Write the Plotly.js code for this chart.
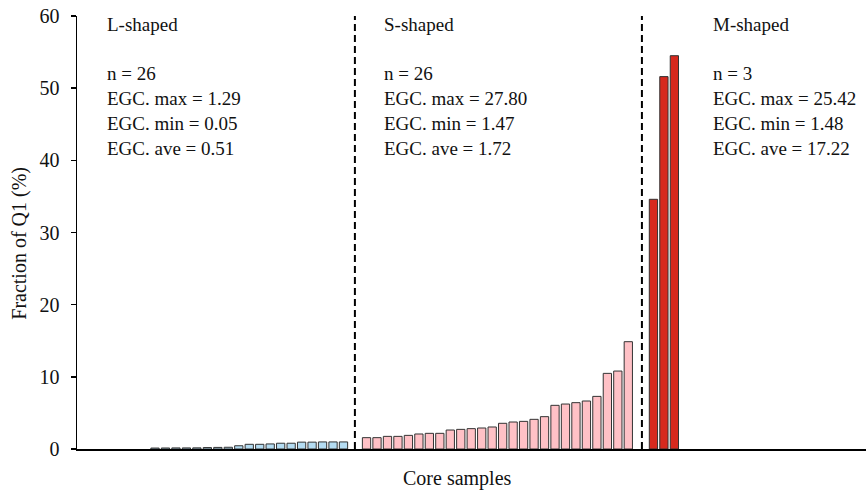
<!DOCTYPE html>
<html>
<head>
<meta charset="utf-8">
<script src="https://cdn.plot.ly/plotly-3.0.1.min.js"></script>
<style>html,body{margin:0;padding:0;background:#fff;}#chart{width:866px;height:492px;}</style>
</head>
<body>
<div id="chart"></div>
<script>
// ---- data ----
const groupNames = ['L-shaped', 'S-shaped', 'M-shaped'];
const lShaped = [0, 0, 0, 0, 0, 0, 0,
                 0.13, 0.14, 0.15, 0.15, 0.16, 0.20, 0.22, 0.24,
                 0.45, 0.65, 0.65, 0.70, 0.80, 0.80, 0.95, 0.95, 0.98, 0.98, 0.98];
const sShaped = [1.57, 1.57, 1.75, 1.75, 1.89, 2.08, 2.17, 2.17, 2.63, 2.72,
                 2.82, 2.91, 3.05, 3.56, 3.74, 3.83, 4.11, 4.48, 6.05, 6.23,
                 6.42, 6.65, 7.29, 10.48, 10.80, 14.87];
const mShaped = [34.6, 51.6, 54.5];
const groupN = ['26', '26', '3'];
const egcMax = ['1.29', '27.80', '25.42'];
const egcMin = ['0.05', '1.47', '1.48'];
const egcAve = ['0.51', '1.72', '17.22'];
const yTicks = [0, 10, 20, 30, 40, 50, 60];

// ---- layout helpers ----
const series = [lShaped, sShaped, mShaped];
const offsets = [0, 27.2, 54.6];
const fills = ['#b4dcf2', '#ffc1c6', '#d7291e'];
const dividers = [26.09, 53.5];
const textX = [0.0349, 0.3871, 0.8031];
const FONT = 'Liberation Serif, Times New Roman, serif';

const traces = series.map((vals, g) => ({
  type: 'bar',
  x: vals.map((v, i) => offsets[g] + i),
  y: vals.map(v => (v === 0 ? null : v)),
  width: 0.79,
  marker: {color: fills[g], line: {color: '#333', width: 1}},
  hoverinfo: 'skip',
  showlegend: false
}));

const annotations = groupNames.map((name, g) => ({
  xref: 'paper', yref: 'paper',
  x: textX[g], y: 1.01,
  xanchor: 'left', yanchor: 'top', align: 'left',
  showarrow: false,
  font: {family: FONT, size: 19, color: '#111'},
  text: name + '<br><br>n = ' + groupN[g] +
        '<br>EGC. max = ' + egcMax[g] +
        '<br>EGC. min = ' + egcMin[g] +
        '<br>EGC. ave = ' + egcAve[g]
}));
annotations.push({
  xref: 'paper', yref: 'paper', x: 0.4826, y: -0.067,
  xanchor: 'center', yanchor: 'middle', showarrow: false,
  font: {family: FONT, size: 20, color: '#111'}, text: 'Core samples'
});
annotations.push({
  xref: 'paper', yref: 'paper', x: -0.073, y: 0.475,
  xanchor: 'center', yanchor: 'middle', showarrow: false, textangle: -90,
  font: {family: FONT, size: 20, color: '#111'}, text: 'Fraction of Q1 (%)'
});

const shapes = dividers.map(d => ({
  type: 'line', xref: 'x', yref: 'paper', x0: d, x1: d, y0: 0, y1: 1,
  line: {color: '#000', width: 2, dash: '7px,4px'}
}));

const layout = {
  width: 866, height: 492,
  margin: {l: 77, r: 0, t: 16, b: 43},
  paper_bgcolor: '#fff', plot_bgcolor: '#fff',
  font: {family: FONT, size: 19, color: '#111'},
  xaxis: {
    range: [-0.45, 74.9], showticklabels: false, ticks: '',
    showgrid: false, zeroline: false,
    showline: true, linecolor: '#000', linewidth: 1.5
  },
  yaxis: {
    range: [0, 60], tickvals: yTicks, ticktext: yTicks.map(String),
    ticks: 'outside', ticklen: 5, tickwidth: 1.5, tickcolor: '#000',
    ticklabelstandoff: 7,
    showgrid: false, zeroline: false,
    showline: true, linecolor: '#000', linewidth: 1.5,
    tickfont: {family: FONT, size: 20, color: '#111'}
  },
  bargap: 0.21,
  annotations: annotations,
  shapes: shapes
};

Plotly.newPlot('chart', traces, layout, {displayModeBar: false, staticPlot: true});
</script>
</body>
</html>
